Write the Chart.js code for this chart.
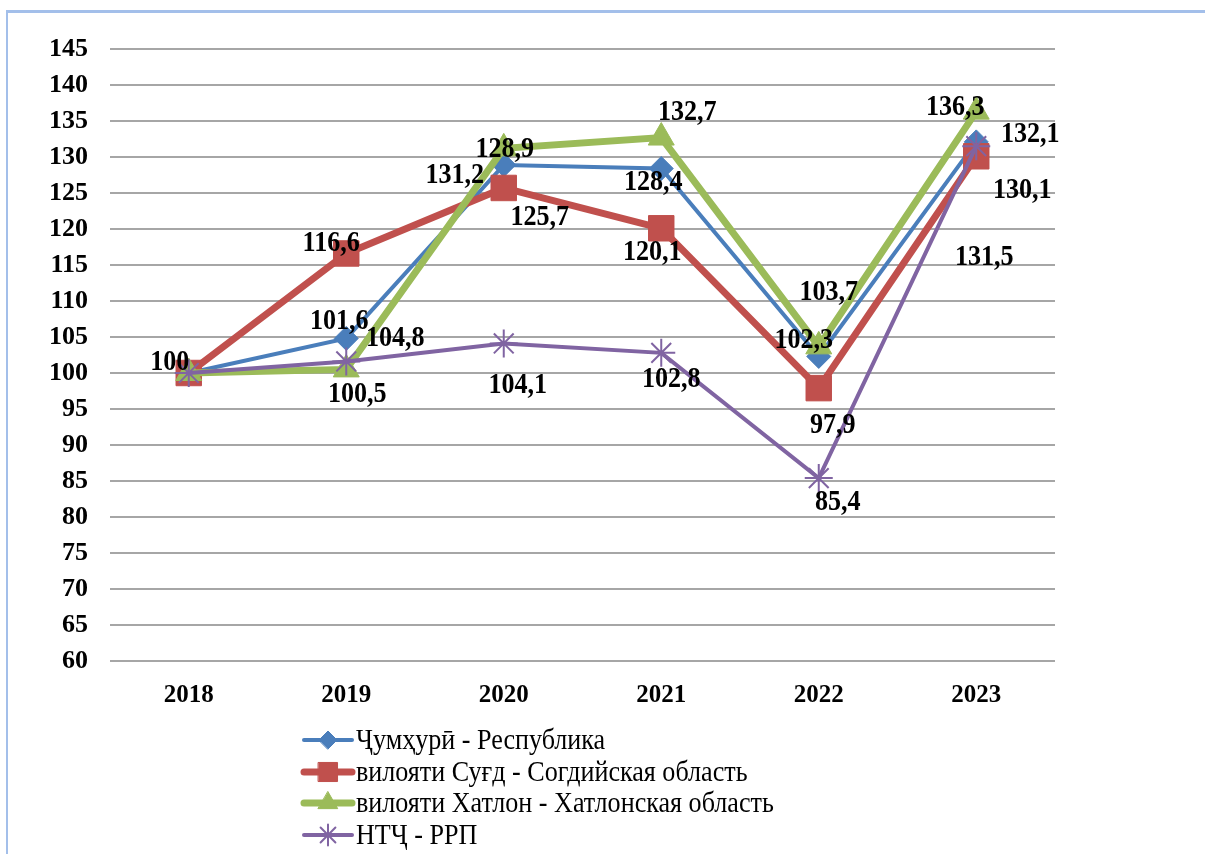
<!DOCTYPE html>
<html><head><meta charset="utf-8">
<script src="https://cdn.jsdelivr.net/npm/chart.js@4"></script>
<style>
body{margin:0;background:#fff}
#wrap{position:relative;width:1205px;height:854px;overflow:hidden}
#frame{position:absolute;left:6px;top:10px;width:1300px;height:900px;border-top:3px solid #a3bfea;border-left:2px solid #a3bfea;pointer-events:none}
canvas{position:absolute;left:0;top:0}
</style></head>
<body><div id="wrap"><canvas id="c" width="1205" height="854"></canvas><div id="frame"></div></div>
<script>
const years = ['2018','2019','2020','2021','2022','2023'];
const seriesNames = ['Ҷумҳурӣ - Республика','вилояти Суғд - Согдийская область','вилояти Хатлон - Хатлонская область','НТҶ - РРП'];
const respublika = [100, 104.8, 128.9, 128.4, 102.3, 132.1];
const sughd      = [100, 116.6, 125.7, 120.1, 97.9, 130.1];
const khatlon    = [100, 100.5, 131.2, 132.7, 103.7, 136.3];
const rrp        = [100, 101.6, 104.1, 102.8, 85.4, 131.5];
const yMin = 60, yMax = 145, yStep = 5;

// label placement (style only): [dx, dy] from point, null = no label
const labelOffsets = [
  [[-19,-10],[49,0],[1,-15],[-8,14],[-15,-16],[54,-7]],
  [null,[-15,-10],[36,30],[-9,24],[14,37],[46,34]],
  [null,[11,25],[-49,27],[26,-25],[10,-54],[-21,-4]],
  [null,[-7,-40],[14,42],[10,27],[19,24],[8,111]]
];

const serif = '"Liberation Serif", "Times New Roman", "DejaVu Serif", serif';
const colors = ['#4a7ebb','#c0504d','#9bbb59','#8064a2'];
const styles = [
  {pointStyle:'rectRot', radius:12, width:4},
  {pointStyle:'rect', radius:18, width:7},
  {pointStyle:'triangle', radius:15, width:7},
  {pointStyle:'star', radius:14, width:4}
];
const values = [respublika, sughd, khatlon, rrp];

const datasets = values.map((v,i)=>({
  label: seriesNames[i],
  data: v,
  borderColor: colors[i],
  backgroundColor: colors[i],
  borderWidth: styles[i].width,
  pointStyle: styles[i].pointStyle,
  pointRadius: styles[i].radius,
  pointBackgroundColor: colors[i],
  pointBorderColor: colors[i],
  pointBorderWidth: i===3 ? 2 : 1,
  tension: 0,
  order: 4 - i
}));

const fmt = v => (Number.isInteger(v) ? String(v) : v.toFixed(1).replace('.', ','));

const labelPlugin = {
  id:'labels',
  afterDatasetsDraw(chart){
    const ctx = chart.ctx;
    ctx.save();
    ctx.fillStyle = '#000';
    ctx.font = 'bold 29px ' + serif;
    ctx.textAlign = 'center';
    ctx.textBaseline = 'middle';
    chart.data.datasets.forEach((ds, di)=>{
      const meta = chart.getDatasetMeta(di);
      meta.data.forEach((pt, j)=>{
        const off = labelOffsets[di][j];
        if(!off) return;
        ctx.save();
        ctx.translate(pt.x + off[0], pt.y + off[1]);
        ctx.scale(0.9, 1);
        ctx.fillText(fmt(ds.data[j]), 0, 0);
        ctx.restore();
      });
    });
    ctx.restore();
  }
};

const legendPlugin = {
  id:'customLegend',
  afterDraw(chart){
    const ctx = chart.ctx;
    const x0 = 304, rowY = [740, 772, 803, 835];
    chart.data.datasets.forEach((ds, i)=>{
      const y = rowY[i];
      ctx.save();
      ctx.strokeStyle = ds.borderColor;
      ctx.lineWidth = ds.borderWidth;
      ctx.lineCap = 'round';
      ctx.beginPath(); ctx.moveTo(x0, y); ctx.lineTo(x0+48, y); ctx.stroke();
      ctx.fillStyle = ds.pointBackgroundColor;
      ctx.strokeStyle = ds.pointBorderColor;
      ctx.lineWidth = ds.pointBorderWidth;
      Chart.helpers.drawPoint(ctx, {pointStyle: ds.pointStyle, radius: ds.pointRadius*0.75, rotation:0, borderWidth: ds.pointBorderWidth}, x0+24, y);
      ctx.translate(x0+52, y);
      ctx.scale(0.9, 1);
      ctx.fillStyle = '#000';
      ctx.font = '29px ' + serif;
      ctx.textBaseline = 'middle';
      ctx.fillText(ds.label, 0, 1);
      ctx.restore();
    });
  }
};

new Chart(document.getElementById('c'), {
  type:'line',
  data:{ labels: years, datasets },
  options:{
    responsive:false,
    animation:false,
    layout:{ padding:{ top:49, right:150, bottom:133, left:0 } },
    plugins:{ legend:{display:false}, tooltip:{enabled:false} },
    scales:{
      x:{
        offset:true,
        grid:{display:false, drawTicks:false},
        border:{display:false},
        ticks:{ color:'#000', padding:20, font:{family:serif, size:25, weight:'bold'} },
        afterFit(s){ s.height = 60; }
      },
      y:{
        min:yMin, max:yMax,
        grid:{color:'#a6a6a6', lineWidth:2, drawTicks:false},
        border:{display:false},
        ticks:{ stepSize:yStep, color:'#000', padding:22, font:{family:serif, size:26, weight:'bold'} },
        afterFit(s){ s.width = 110; }
      }
    }
  },
  plugins:[labelPlugin, legendPlugin]
});
</script>
</body></html>
